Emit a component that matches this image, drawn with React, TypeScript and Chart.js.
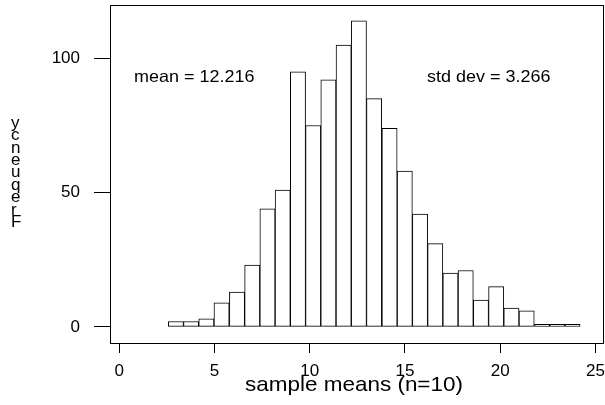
import React, { useEffect, useRef } from "react";
import { Chart, registerables } from "chart.js";

Chart.register(...registerables);

// Histogram bins (centres of each bar, width ~0.8) and counts
const binCenters = [
  2.97, 3.77, 4.57, 5.37, 6.18, 6.98, 7.78, 8.58, 9.38, 10.18, 10.98, 11.78, 12.58, 13.38,
  14.19, 14.99, 15.79, 16.59, 17.39, 18.19, 18.99, 19.79, 20.59, 21.39, 22.2, 23.0, 23.8,
];
const frequencies = [
  2, 2, 3, 9, 13, 23, 44, 51, 95, 75, 92, 105, 114, 85, 74, 58, 42, 31, 20, 21, 10, 15, 7, 6, 1, 1, 1,
];
const xTicks = [0, 5, 10, 15, 20, 25];
const yTicks = [0, 50, 100];
const xTitle = "sample means (n=10)";
const yTitle = "Frequency";
const meanLabel = "mean = 12.216";
const sdLabel = "std dev = 3.266";

const FONT = "'Liberation Sans', Arial, sans-serif";

function stretchedText(ctx: any, text: string, x: number, y: number, sx: number, align: string) {
  ctx.save();
  ctx.translate(x, y);
  ctx.scale(sx, 1);
  ctx.textAlign = align;
  ctx.fillText(text, 0, 0);
  ctx.restore();
}

const decorPlugin = {
  id: "decor",
  afterDraw(chart: any) {
    const { ctx, chartArea: a } = chart;
    ctx.save();
    ctx.strokeStyle = "#000";
    ctx.lineWidth = 1;
    const l = Math.round(a.left) + 0.5;
    const t = Math.round(a.top) + 0.5;
    const r = Math.round(a.right) + 0.5;
    const b = Math.round(a.bottom) + 0.5;
    ctx.strokeRect(l, t, r - l, b - t);

    ctx.fillStyle = "#000";
    ctx.textBaseline = "alphabetic";
    ctx.font = `16.5px ${FONT}`;
    stretchedText(ctx, meanLabel, 134, 82, 1.09, "left");
    stretchedText(ctx, sdLabel, 427, 82, 1.09, "left");

    ctx.font = `21px ${FONT}`;
    stretchedText(ctx, xTitle, 354, 391, 1.07, "center");

    // vertical stacked y title (as in the reference rendering)
    ctx.font = `17px ${FONT}`;
    ctx.textAlign = "left";
    const chars = yTitle.split("");
    for (let i = 0; i < chars.length; i++) {
      ctx.fillText(chars[i], 11, 227 - i * 12.4);
    }
    ctx.restore();
  },
};

export default function App() {
  const ref = useRef<HTMLCanvasElement | null>(null);
  useEffect(() => {
    document.body.style.margin = "0";
    const canvas = ref.current;
    if (!canvas) return;
    const chart = new Chart(canvas, {
      type: "bar",
      data: {
        datasets: [
          {
            data: binCenters.map((x, i) => ({ x, y: frequencies[i] })),
            backgroundColor: "#ffffff",
            borderColor: "#000000",
            borderWidth: 1,
            borderSkipped: false,
            categoryPercentage: 1,
            barPercentage: 1,
          } as any,
        ],
      },
      options: {
        responsive: false,
        animation: false,
        devicePixelRatio: 1,
        layout: { padding: { left: 0, top: 5, right: 2, bottom: 0 } },
        plugins: { legend: { display: false }, tooltip: { enabled: false } },
        scales: {
          x: {
            type: "linear",
            min: -0.49,
            max: 25.4,
            offset: false,
            grid: { offset: false, drawOnChartArea: false, drawTicks: true, tickLength: 10, color: "#000" },
            border: { display: false },
            ticks: { color: "#000", font: { family: FONT, size: 17 }, padding: 8, maxRotation: 0, autoSkip: false },
            afterBuildTicks: (s: any) => {
              s.ticks = xTicks.map((v) => ({ value: v }));
            },
            afterFit: (s: any) => {
              s.height = 62;
              s.paddingLeft = 0;
              s.paddingRight = 0;
            },
          },
          y: {
            min: -6,
            max: 119.9,
            grid: { offset: false, drawOnChartArea: false, drawTicks: true, tickLength: 16, color: "#000" },
            border: { display: false },
            ticks: { color: "#000", font: { family: FONT, size: 17 }, padding: 14 },
            afterBuildTicks: (s: any) => {
              s.ticks = yTicks.map((v) => ({ value: v }));
            },
            afterFit: (s: any) => {
              s.width = 110;
              s.paddingTop = 0;
              s.paddingBottom = 0;
            },
          },
        },
      },
      plugins: [decorPlugin],
    });
    return () => chart.destroy();
  }, []);
  return <canvas ref={ref} width={605} height={405} style={{ display: "block" }} />;
}
